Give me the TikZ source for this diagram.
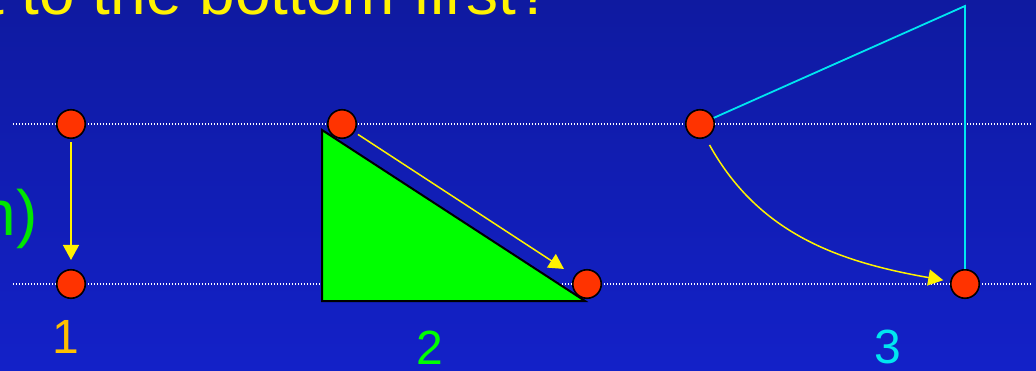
\documentclass[tikz,border=0pt]{standalone}
\usepackage{fontspec}
\setmainfont{Liberation Sans}
\usetikzlibrary{arrows.meta}
\definecolor{NavyTop}{RGB}{15,26,160}
\definecolor{NavyBottom}{RGB}{19,33,200}
\definecolor{BallRed}{RGB}{255,51,0}
\definecolor{RampGreen}{RGB}{0,255,0}
\definecolor{LabelGreen}{RGB}{0,230,0}
\definecolor{LabelOrange}{RGB}{255,192,0}
\definecolor{RopeCyan}{RGB}{0,230,240}
\tikzset{
  ball/.style={circle,draw=black,fill=BallRed,line width=1.6pt,
    minimum size=28.5pt,inner sep=0pt},
  level/.style={white,line width=1.2pt,dash pattern=on 1.4pt off 1.6pt},
  fall/.style={-{Triangle[length=15pt,width=16pt]},yellow,line width=1.5pt},
  rope/.style={RopeCyan,line width=1.8pt},
  ramp/.style={draw=black,fill=RampGreen,line width=2pt},
  digit/.style={font=\fontsize{48}{52}\selectfont,inner sep=0pt},
  heading/.style={font=\fontsize{64}{70}\selectfont,inner sep=0pt}
}

\begin{document}
\begin{tikzpicture}[x=1pt,y=1pt]
  \useasboundingbox (0,0) rectangle (1036,370);
  \shade[top color=NavyTop,bottom color=NavyBottom] (0,0) rectangle (1036,370);
  % heading and side note
  \node[heading,yellow,anchor=base east] (title) at (552,355) {t to the bottom first?};
  \node[heading,LabelGreen,anchor=base east] (note) at (38,135) {n)};
  % start and finish levels
  \coordinate (lt0) at (13,246);
  \coordinate (lt1) at (1032,246);
  \coordinate (lb0) at (13,86);
  \coordinate (lb1) at (1032,86);
  \draw[level] (lt0) -- (lt1);
  \draw[level] (lb0) -- (lb1);
  % case 2: the ramp
  \draw[ramp] (322,240) -- (322,69) -- (585,69) -- cycle;
  % case 3: the pendulum
  \coordinate (pivot) at (965,364);
  \node[ball] (t1) at (71,246) {};
  \node[ball] (b1) at (71,86) {};
  \node[ball] (t2) at (342,246) {};
  \node[ball] (b2) at (587,86) {};
  \node[ball] (t3) at (700,246) {};
  \node[ball] (b3) at (965,86) {};
  \draw[rope] (t3) -- (pivot) -- (b3);
  \draw[fall,shorten <=3pt,shorten >=9pt] (t1) -- (b1);
  \draw[fall,shorten <=4pt,shorten >=12.5pt] (t2) -- (b2);
  \draw[fall,shorten <=8pt,shorten >=7pt] (t3.-68) to[out=-61,in=170] (b3.170);
  % case numbers
  \node[digit,LabelOrange] (n1) at (66,33) {1};
  \node[digit,RampGreen] (n2) at (430,22) {2};
  \node[digit,RopeCyan] (n3) at (888,23) {3};
\end{tikzpicture}
\end{document}
